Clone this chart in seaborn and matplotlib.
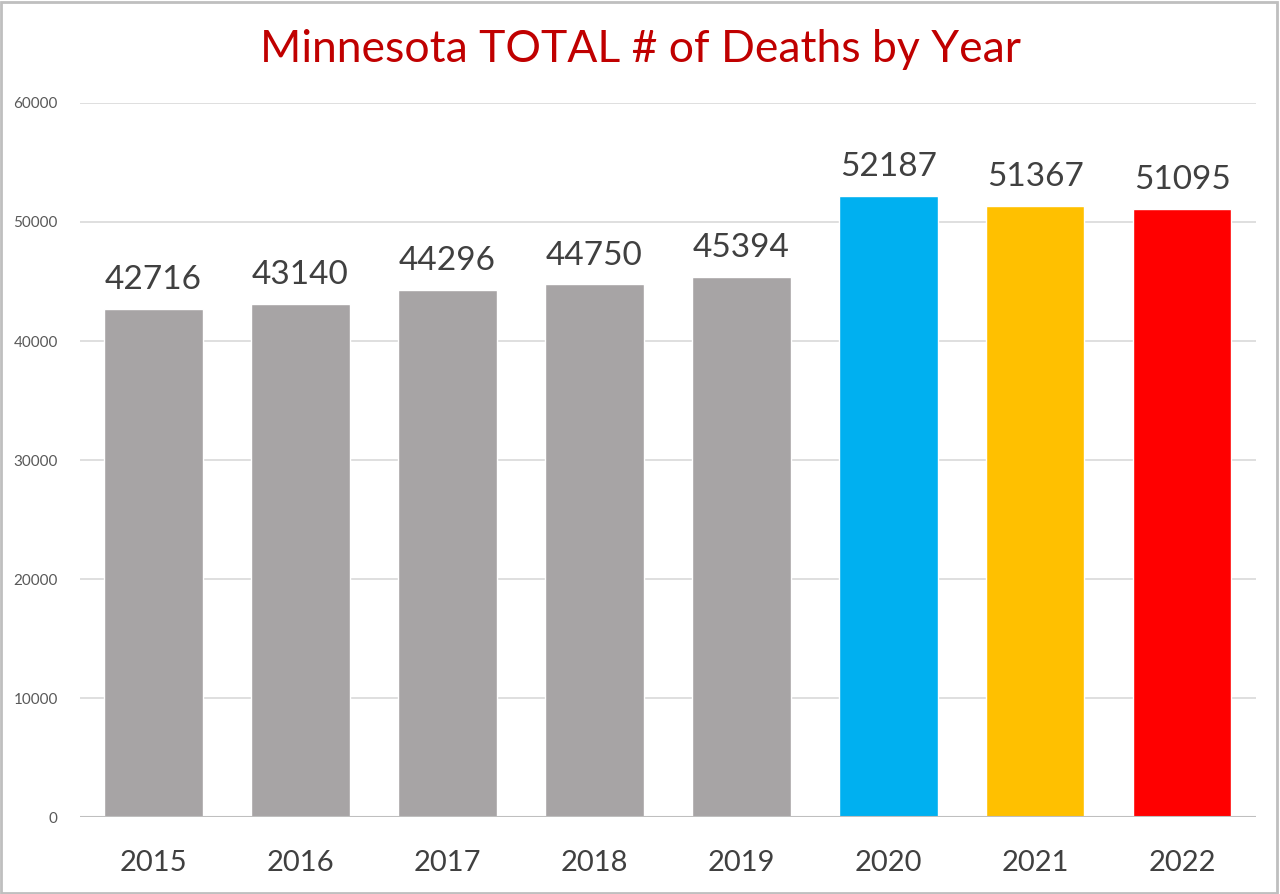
import matplotlib
matplotlib.use("Agg")
import matplotlib.pyplot as plt
import seaborn as sns
import pandas as pd

years = ["2015", "2016", "2017", "2018", "2019", "2020", "2021", "2022"]
deaths = [42716, 43140, 44296, 44750, 45394, 52187, 51367, 51095]
colors = ["#A7A4A5"] * 5 + ["#00B0F0", "#FFC000", "#FF0000"]
yticks = [0, 10000, 20000, 30000, 40000, 50000, 60000]

df = pd.DataFrame({"year": years, "deaths": deaths})

sns.set_style("white")
plt.rcParams["font.family"] = ["Lato", "DejaVu Sans"]

fig = plt.figure(figsize=(12.8, 8.94), dpi=100)
ax = fig.add_axes([0.0625, 0.0861, 0.9185, 0.7987])

sns.barplot(data=df, x="year", y="deaths", hue="year", palette=colors,
            legend=False, width=0.67, saturation=1, ax=ax)

for i, v in enumerate(deaths):
    ax.text(i, v + 1150, str(v), ha="center", va="bottom", fontsize=24, color="#404040")

ax.set_ylim(0, 60000)
ax.set_xlim(-0.5, len(years) - 0.5)
ax.set_yticks(yticks)
ax.set_yticklabels([str(t) for t in yticks], fontsize=11, color="#595959")
ax.tick_params(axis="x", labelsize=21, labelcolor="#404040", pad=24, length=0)
ax.tick_params(axis="y", length=0, pad=16)
ax.yaxis.grid(True, color="#D9D9D9", linewidth=1.2)
ax.set_axisbelow(True)
ax.set_xlabel("")
ax.set_ylabel("")
for s in ax.spines.values():
    s.set_visible(False)
ax.axhline(0, color="#BFBFBF", linewidth=1.5)

fig.text(0.5, 0.945, "Minnesota TOTAL # of Deaths by Year", ha="center", va="center",
         fontsize=32, color="#C00000")

fig.patches.append(plt.Rectangle((0.001, 0.001), 0.997, 0.997, transform=fig.transFigure,
                                 fill=False, edgecolor="#BFBFBF", linewidth=2))

fig.savefig("out.png", dpi=100)
